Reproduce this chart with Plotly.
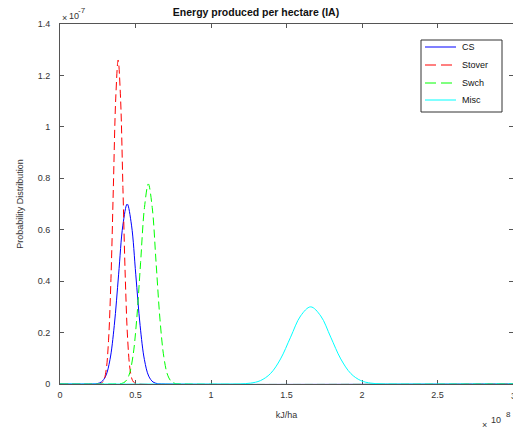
import plotly.graph_objects as go

# x in units of 1e8 kJ/ha, y in units of 1e-7
cs_x = [0, 0.217, 0.2455, 0.274, 0.3025, 0.331, 0.3595, 0.388, 0.4165, 0.445,
        0.4735, 0.502, 0.5305, 0.559, 0.5875, 0.616, 0.6445, 0.673, 3]
cs_y = [0, 0.0002, 0.0015, 0.0078, 0.0307, 0.0947, 0.2273, 0.4246, 0.6178, 0.70,
        0.6178, 0.4246, 0.2273, 0.0947, 0.0307, 0.0078, 0.0015, 0.0002, 0]

stover_x = [0, 0.2582, 0.274, 0.2899, 0.3058, 0.3216, 0.3375, 0.3533, 0.3692, 0.385,
            0.4009, 0.4167, 0.4326, 0.4484, 0.4643, 0.4801, 0.496, 0.5118, 3]
stover_y = [0, 0.0004, 0.0028, 0.0140, 0.0553, 0.1705, 0.4091, 0.7642, 1.112, 1.26,
            1.112, 0.7642, 0.4091, 0.1705, 0.0553, 0.0140, 0.0028, 0.0004, 0]

swch_x = [0, 0.3798, 0.4055, 0.4311, 0.4568, 0.4824, 0.5081, 0.5337, 0.5594, 0.585,
          0.6107, 0.6363, 0.662, 0.6876, 0.7133, 0.7389, 0.7646, 0.7902, 3]
swch_y = [0, 0.0003, 0.0017, 0.0086, 0.0342, 0.1053, 0.2526, 0.4719, 0.6866, 0.778,
          0.6866, 0.4719, 0.2526, 0.1053, 0.0342, 0.0086, 0.0017, 0.0003, 0]

misc_x = [0, 1.128, 1.1945, 1.261, 1.3275, 1.394, 1.4605, 1.527, 1.5935, 1.66,
          1.7265, 1.793, 1.8595, 1.926, 1.9925, 2.059, 2.1255, 2.192, 3]
misc_y = [0, 0.0001, 0.0007, 0.0033, 0.0132, 0.0406, 0.0974, 0.182, 0.2648, 0.30,
          0.2648, 0.182, 0.0974, 0.0406, 0.0132, 0.0033, 0.0007, 0.0001, 0]

series_names = ["CS", "Stover", "Swch", "Misc"]
series_colors = ["#0000ff", "#ff0000", "#00ff00", "#00ffff"]
series_dashes = ["solid", "8px,4px", "8px,4px", "solid"]

x_ticks = [0, 0.5, 1, 1.5, 2, 2.5, 3]
x_tick_labels = ["0", "0.5", "1", "1.5", "2", "2.5", "3"]
y_ticks = [0, 0.2, 0.4, 0.6, 0.8, 1, 1.2, 1.4]
y_tick_labels = ["0", "0.2", "0.4", "0.6", "0.8", "1", "1.2", "1.4"]

FONT = "Liberation Sans, Arial, sans-serif"
AX = "#555555"
TXT = "#333333"

W, H = 513, 431
L, R, T, B = 60, 0, 24, 47
PW, PH = W - L - R, H - T - B


def px(x):
    return (x - L) / PW


def py(y):
    return (H - B - y) / PH


fig = go.Figure()
all_x = [cs_x, stover_x, swch_x, misc_x]
all_y = [cs_y, stover_y, swch_y, misc_y]
for name, xs, ys, col, dash in zip(series_names, all_x, all_y, series_colors, series_dashes):
    fig.add_trace(go.Scatter(x=xs, y=ys, mode="lines", name=name, showlegend=False,
                             line=dict(color=col, width=1, dash=dash, shape="spline")))

fig.update_layout(
    width=W, height=H,
    margin=dict(l=L, r=R, t=T, b=B),
    paper_bgcolor="white", plot_bgcolor="white",
    font=dict(family=FONT, size=9, color=TXT),
    title=dict(text="<b>Energy produced per hectare (IA)</b>", x=256 / W, xanchor="center",
               y=1 - 12 / H, yanchor="middle", font=dict(size=10.5, color="#111111")),
    xaxis=dict(range=[0, 3], tickvals=x_ticks[:-1], ticktext=x_tick_labels[:-1],
               ticks="inside", ticklen=4, tickcolor=AX, showline=True, linecolor=AX,
               linewidth=1, mirror="ticks", showgrid=False, zeroline=False,
               layer="below traces", ticklabelstandoff=2,
               title=dict(text="kJ/ha", font=dict(size=9, color=TXT), standoff=12)),
    yaxis=dict(range=[0, 1.4], tickvals=y_ticks, ticktext=y_tick_labels,
               ticks="inside", ticklen=4, tickcolor=AX, showline=True, linecolor=AX,
               linewidth=1, mirror="ticks", showgrid=False, zeroline=False,
               layer="below traces", ticklabelstandoff=7,
               title=dict(text="Probability Distribution", font=dict(size=9, color=TXT),
                          standoff=12)),
    showlegend=False,
)

# last x tick label sits on the page edge; draw it as an annotation so it is not dropped
fig.add_annotation(text=x_tick_labels[-1], xref="x", yref="paper", x=x_ticks[-1], y=0,
                   xanchor="center", yanchor="top", yshift=-5, showarrow=False,
                   font=dict(size=9, color=TXT))

# manual legend box (MATLAB style)
fig.add_shape(type="rect", xref="paper", yref="paper",
              x0=px(421), x1=px(502), y0=py(112), y1=py(40),
              line=dict(color="#333333", width=1), fillcolor="white", layer="above")
legend_rows = [47, 65, 83, 100]
legend_dashes = ["solid", "11px,5px", "11px,5px", "solid"]
for name, col, dash, yy in zip(series_names, series_colors, legend_dashes, legend_rows):
    fig.add_shape(type="line", xref="paper", yref="paper",
                  x0=px(425), x1=px(456), y0=py(yy), y1=py(yy),
                  line=dict(color=col, width=1, dash=dash), layer="above")
    fig.add_annotation(text=name, xref="paper", yref="paper", x=px(460), y=py(yy),
                       xanchor="left", yanchor="middle", showarrow=False,
                       font=dict(size=9, color="#111111"))

# exponent labels
fig.add_annotation(text="×", xref="paper", yref="paper", x=px(60), y=py(18),
                   xanchor="left", yanchor="middle", showarrow=False,
                   font=dict(size=9, color=TXT))
fig.add_annotation(text="10", xref="paper", yref="paper", x=px(67), y=py(16),
                   xanchor="left", yanchor="middle", showarrow=False,
                   font=dict(size=9, color=TXT))
fig.add_annotation(text="-7", xref="paper", yref="paper", x=px(76), y=py(11),
                   xanchor="left", yanchor="middle", showarrow=False,
                   font=dict(size=8, color=TXT))

fig.add_annotation(text="×", xref="paper", yref="paper", x=px(480), y=py(425),
                   xanchor="left", yanchor="middle", showarrow=False,
                   font=dict(size=9, color=TXT))
fig.add_annotation(text="10", xref="paper", yref="paper", x=px(489), y=py(420),
                   xanchor="left", yanchor="middle", showarrow=False,
                   font=dict(size=9, color=TXT))
fig.add_annotation(text="8", xref="paper", yref="paper", x=px(504), y=py(415),
                   xanchor="left", yanchor="middle", showarrow=False,
                   font=dict(size=8, color=TXT))

fig.write_html("out.html")
